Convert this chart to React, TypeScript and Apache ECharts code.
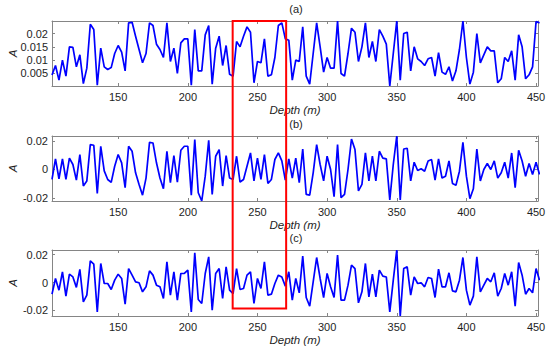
import React, { useEffect, useRef } from "react";
import * as echarts from "echarts";

// ---- data ----
const DEPTH_START = 102.5; // first sample depth (m)
const DEPTH_STEP = 2.5; // sampling interval (m)
const X_MIN = 102.5;
const X_MAX = 451.4;
const X_TICK_STEP = 50;

const SERIES_A = [
  0.0044, 0.008, 0.0025, 0.01, 0.004, 0.015, 0.0148, 0.0075, 0.012, 0.0012,
  0.007, 0.0235, 0.0215, 0.0006, 0.0145, 0.0075, 0.0065, 0.0072, 0.0125, 0.0155,
  0.013, 0.006, 0.024, 0.0242, 0.019, 0.014, 0.009, 0.0125, 0.024, 0.023,
  0.016, 0.014, 0.011, 0.024, 0.0095, 0.0145, 0.005, 0.0165, 0.018, 0.018,
  0.0006, 0.0215, 0.006, 0.006, 0.0195, 0.023, 0.001, 0.0145, 0.019, 0.008,
  0.0155, 0.0047, 0.004, 0.017, 0.015, 0.019, 0.0225, 0.0205, 0.0015, 0.0095,
  0.009, 0.018, 0.004, 0.0045, 0.011, 0.023, 0.024, 0.018, 0.0175, 0.0025,
  0.01, 0.0095, 0.0225, 0.004, 0.001, 0.0125, 0.024, 0.015, 0.0055, 0.011,
  0.007, 0.007, 0.0247, 0.005, 0.004, 0.0125, 0.022, 0.0205, 0.0095, 0.015,
  0.024, 0.011, 0.017, 0.0095, 0.0215, 0.019, 0.016, 0.0003, 0.0125, 0.0247,
  0.0025, 0.02, 0.0205, 0.006, 0.015, 0.0105, 0.0095, 0.008, 0.0105, 0.011,
  0.004, 0.0128, 0.0055, 0.0047, 0.0075, 0.0022, 0.006, 0.014, 0.0247, 0.011,
  0.001, 0.0055, 0.02, 0.009, 0.012, 0.015, 0.0135, 0.0135, 0.0015, 0.003,
  0.011, 0.0095, 0.0135, 0.0025, 0.0195, 0.015, 0.003, 0.0045, 0.0075, 0.0245,
  0.024,
];

const SERIES_B = [
  -0.007, 0.0075, -0.0065, 0.0075, -0.007, 0.008, 0.0035, -0.0075, 0.0105, -0.0115,
  -0.008, 0.0175, 0.017, -0.0168, 0.0163, -0.001, -0.007, -0.009, 0.0023, 0.0105,
  0.0047, -0.0128, 0.0163, 0.0128, -0.0023, -0.0105, -0.018, -0.006, 0.019, 0.0186,
  0.0047, -0.006, -0.0135, 0.0128, -0.0093, 0.0098, -0.0088, 0.0135, 0.0163, 0.0163,
  -0.018, 0.021, -0.0163, -0.0221, -0.0047, 0.0205, -0.0175, 0.0093, 0.014, -0.0116,
  0.0098, -0.006, -0.007, 0.0093, -0.0088, -0.007, 0.0023, 0.0116, -0.008, 0.008,
  -0.007, 0.0105, -0.0098, -0.007, 0.007, 0.0116, 0.006, -0.0075, 0.0075, -0.006,
  0.008, -0.0093, 0.0144, -0.0175, -0.018, -0.0023, 0.0175, 0.0035, -0.008, 0.0093,
  0, -0.019, 0.0175, -0.0198, -0.0175, 0, 0.0214, 0.014, -0.015, -0.0105,
  0.0116, -0.008, 0.0093, -0.008, 0.0128, 0.008, 0.0075, -0.0214, 0.0035, 0.0235,
  -0.0214, 0.0144, 0.0149, -0.008, 0.0051, -0.0007, 0.0005, -0.0012, 0.006, 0.007,
  -0.0075, 0.0075, -0.006, -0.0047, 0.006, -0.0098, -0.011, -0.0012, 0.019, -0.0047,
  -0.0205, -0.0135, 0.0144, -0.008, 0, 0.0042, 0, 0.006, -0.006, -0.0023,
  0.0051, -0.006, 0.0116, -0.0128, 0.0135, 0.006, -0.0047, 0.0042, -0.0035, 0.0051,
  -0.0035,
];

const SERIES_C = [
  -0.0084, 0.0029, -0.0055, 0.0077, -0.0098, 0.006, 0.004, -0.0035, 0.0094, -0.0139,
  -0.0091, 0.0156, 0.0132, -0.0211, 0.0137, -0.0007, -0.0007, -0.005, 0.0017, 0.006,
  0.0029, -0.0156, 0.01, 0.0053, 0.0005, -0.0002, -0.0067, -0.0031, 0.0084, 0.0053,
  -0.0019, -0.0031, -0.0115, 0.0149, -0.0091, 0.0077, -0.0127, 0.0065, 0.0065, 0.0089,
  -0.0211, 0.0214, -0.0122, -0.0151, 0.0065, 0.0185, -0.0199, 0.0065, 0.01, -0.0115,
  0.0113, -0.0055, -0.008, 0.01, -0.005, -0.0043, 0.0053, 0.0077, -0.0151, 0.0029,
  -0.0043, 0.0149, -0.0091, -0.0084, -0.0007, 0.0053, 0.004, -0.0026, 0.0077, -0.0127,
  0.0029, -0.0074, 0.019, -0.0108, -0.017, 0.0005, 0.018, 0.0029, -0.0108, 0.0065,
  -0.0031, -0.0108, 0.0197, -0.0127, -0.0127, -0.0019, 0.0125, 0.01, -0.0146, -0.0067,
  0.0137, -0.0103, 0.006, -0.0103, 0.0089, 0.0046, 0.004, -0.0211, 0.0017, 0.0234,
  -0.0241, 0.01, 0.0113, -0.0091, 0.004, -0.0007, -0.0002, -0.0031, 0.0036, 0.0029,
  -0.0108, 0.0096, -0.0031, -0.0031, 0.007, -0.006, -0.0067, 0.0017, 0.018, -0.0055,
  -0.0163, -0.0098, 0.0185, -0.0067, -0.0019, 0.0029, 0.0005, 0.007, -0.0098, -0.0043,
  0.0065, -0.0019, 0.0077, -0.017, 0.0144, 0.0053, -0.0084, -0.0043, -0.0074, 0.01,
  0.0017,
];

const Y_RANGE_A = [0.0003, 0.0247];
const Y_RANGE_B = [-0.0221, 0.0235];
const Y_RANGE_C = [-0.0241, 0.0234];
const Y_STEP_A = 0.005;
const Y_STEP_BC = 0.02;

const PANEL_TITLES = ["(a)", "(b)", "(c)"];
const X_NAME = "Depth (m)";
const Y_NAME = "A";

// highlighted depth window (red box), from top of (a) down into (c)
const HIGHLIGHT_DEPTH = [232.2, 270.6];
const HIGHLIGHT_BOTTOM_VALUE_C = -0.0187;

export default function App() {
  const ref = useRef<HTMLDivElement>(null);

  useEffect(() => {
    if (!ref.current) return;
    const chart = echarts.init(ref.current, null, { renderer: "svg" });
    const depths = SERIES_A.map((_, i) => DEPTH_START + i * DEPTH_STEP);

    const font = "'Liberation Sans', Arial, Helvetica, sans-serif";
    const boxColor = "#858585";
    const labelColor = "#1e1e1e";

    const panels = [
      { data: SERIES_A, range: Y_RANGE_A, step: Y_STEP_A, top: 21, height: 65, titleY: 9 },
      { data: SERIES_B, range: Y_RANGE_B, step: Y_STEP_BC, top: 136, height: 65, titleY: 124 },
      { data: SERIES_C, range: Y_RANGE_C, step: Y_STEP_BC, top: 250, height: 66, titleY: 238 },
    ];

    const grid = panels.map((p) => ({
      left: 52,
      right: 12,
      top: p.top,
      height: p.height,
      show: false,
      containLabel: false,
      outerBoundsMode: "none",
    }));

    const xAxisBase = (i: number) => ({
      type: "value",
      gridIndex: i,
      min: X_MIN,
      max: X_MAX,
      splitNumber: 7,
      minInterval: X_TICK_STEP,
      maxInterval: X_TICK_STEP,
      axisLine: { show: true, onZero: false, lineStyle: { color: boxColor, width: 1 } },
      axisTick: { show: true, inside: true, length: 3, lineStyle: { color: boxColor } },
      splitLine: { show: false },
    });

    const xAxes: any[] = [];
    panels.forEach((_, i) => {
      xAxes.push({
        ...xAxisBase(i),
        position: "bottom",
        axisLabel: {
          show: true,
          showMinLabel: false,
          showMaxLabel: false,
          color: labelColor,
          fontSize: 11,
          fontFamily: font,
          margin: 5,
        },
        name: X_NAME,
        nameLocation: "middle",
        nameGap: 18,
        nameMoveOverlap: false,
        nameTextStyle: {
          fontStyle: "italic",
          fontSize: 11.5,
          fontFamily: font,
          color: labelColor,
        },
      });
    });
    panels.forEach((_, i) => {
      xAxes.push({
        ...xAxisBase(i),
        position: "top",
        axisLabel: { show: false },
      });
    });

    const yAxisBase = (p: any, i: number) => ({
      type: "value",
      gridIndex: i,
      min: p.range[0],
      max: p.range[1],
      minInterval: p.step,
      maxInterval: p.step,
      splitNumber: 4,
      axisLine: { show: true, onZero: false, lineStyle: { color: boxColor, width: 1 } },
      axisTick: { show: true, inside: true, length: 3, lineStyle: { color: boxColor } },
      splitLine: { show: false },
    });

    const yAxes: any[] = [];
    panels.forEach((p, i) => {
      yAxes.push({
        ...yAxisBase(p, i),
        position: "left",
        axisLabel: {
          show: true,
          showMinLabel: false,
          showMaxLabel: false,
          color: labelColor,
          fontSize: 11,
          fontFamily: font,
          margin: 4,
        },
        name: Y_NAME,
        nameLocation: "middle",
        nameGap: 33,
        nameMoveOverlap: false,
        nameTextStyle: {
          fontStyle: "italic",
          fontSize: 11.5,
          fontFamily: font,
          color: labelColor,
        },
      });
    });
    panels.forEach((p, i) => {
      yAxes.push({
        ...yAxisBase(p, i),
        position: "right",
        axisLabel: { show: false },
      });
    });

    const series = panels.map((p, i) => ({
      type: "line",
      xAxisIndex: i,
      yAxisIndex: i,
      data: p.data.map((v, k) => [depths[k], v]),
      showSymbol: false,
      symbol: "none",
      clip: true,
      lineStyle: { color: "#0000ff", width: 1.7 },
      z: 2,
    }));

    const titles = panels.map((p, i) => ({
      type: "text",
      x: 296,
      y: p.titleY,
      style: {
        text: PANEL_TITLES[i],
        align: "center",
        verticalAlign: "middle",
        fontSize: 11,
        fontFamily: font,
        fill: labelColor,
      },
    }));

    chart.setOption({
      animation: false,
      backgroundColor: "#ffffff",
      grid,
      xAxis: xAxes,
      yAxis: yAxes,
      series,
      graphic: titles,
    });

    const xL = chart.convertToPixel({ xAxisIndex: 0 }, HIGHLIGHT_DEPTH[0]) as number;
    const xR = chart.convertToPixel({ xAxisIndex: 0 }, HIGHLIGHT_DEPTH[1]) as number;
    const yT = chart.convertToPixel({ yAxisIndex: 0 }, Y_RANGE_A[1]) as number;
    const yB = chart.convertToPixel({ yAxisIndex: 2 }, HIGHLIGHT_BOTTOM_VALUE_C) as number;

    chart.setOption({
      graphic: [
        ...titles,
        {
          type: "rect",
          shape: { x: xL, y: yT, width: xR - xL, height: yB - yT },
          style: { fill: "none", stroke: "#ff0000", lineWidth: 2 },
          z: 100,
        },
      ],
    });

    return () => {
      chart.dispose();
    };
  }, []);

  return (
    <div
      style={{
        position: "fixed",
        left: 0,
        top: 0,
        width: 550,
        height: 349,
        background: "#ffffff",
      }}
    >
      <div ref={ref} style={{ width: 550, height: 349 }} />
    </div>
  );
}
